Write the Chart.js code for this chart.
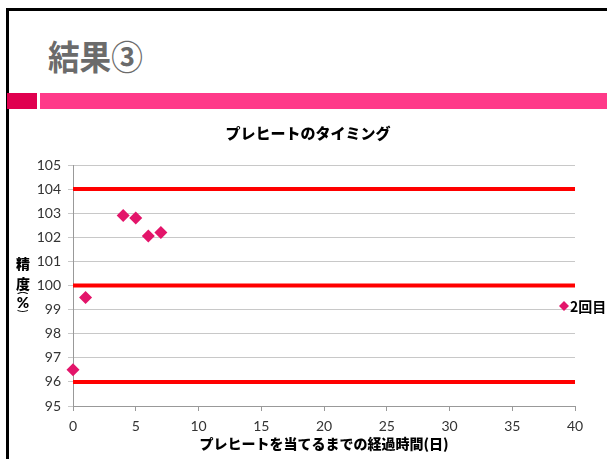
<!DOCTYPE html>
<html>
<head>
<meta charset="utf-8">
<script src="https://cdn.jsdelivr.net/npm/chart.js@4/dist/chart.umd.min.js"></script>
<style>
  html, body { margin: 0; padding: 0; background: #fff; }
  body { width: 607px; height: 459px; position: relative; overflow: hidden; }
  .frame-top { position: absolute; left: 7px; top: 8px; width: 600px; height: 3px; background: #000; }
  .frame-left { position: absolute; left: 6px; top: 8px; width: 3px; height: 451px; background: #000; }
  .slide-title { position: absolute; left: 48px; top: 32px; font-family: "Noto Sans CJK JP", sans-serif; font-weight: bold; font-size: 34px; line-height: 48px; color: #6b6b6b; transform: scaleX(0.93); transform-origin: left top; }
  .bar-dark { position: absolute; left: 7px; top: 93px; width: 30px; height: 16px; background: #e0004f; }
  .bar-pink { position: absolute; left: 40px; top: 93px; width: 567px; height: 16px; background: #ff3a89; }
  canvas { position: absolute; left: 0; top: 0; }
</style>
</head>
<body>
<div class="frame-top"></div>
<div class="frame-left"></div>
<div class="slide-title">結果③</div>
<div class="bar-dark"></div>
<div class="bar-pink"></div>
<canvas id="c" width="607" height="459"></canvas>
<script>
const chartTitle = "プレヒートのタイミング";
const xTitle = "プレヒートを当てるまでの経過時間(日)";
const yTitleParts = ["精", "度", "(", "%", ")"];
const seriesName = "2回目";
const days = [0, 1, 4, 5, 6, 7];
const accuracy = [96.5, 99.5, 102.9, 102.8, 102.05, 102.2];
const limitLevels = [104, 100, 96];
const limitSpan = [0, 40];
const yRange = [95, 105];
const xRange = [0, 40];

const pink = "#e3156a";
const fontLatin = "Lato, 'DejaVu Sans', sans-serif";
const fontJP = "'Noto Sans CJK JP', sans-serif";

const limitDatasets = limitLevels.map(v => ({
  type: 'line',
  label: 'limit ' + v,
  data: limitSpan.map(x => ({ x: x, y: v })),
  borderColor: '#ff0000',
  borderWidth: 4,
  pointRadius: 0,
  order: 2
}));

const decoPlugin = {
  id: 'deco',
  afterDraw(chart) {
    const ctx = chart.ctx;
    ctx.save();
    // chart title
    ctx.fillStyle = '#000';
    ctx.textAlign = 'center';
    ctx.textBaseline = 'middle';
    ctx.font = "900 15px " + fontJP;
    ctx.fillText(chartTitle, 308, 133);
    // y axis title, stacked vertically
    const ys = [264, 284, 293, 303, 311];
    yTitleParts.forEach((ch, i) => {
      if (ch === '(' || ch === ')') {
        ctx.save();
        ctx.translate(23, ys[i]);
        ctx.rotate(Math.PI / 2);
        ctx.font = "400 11px " + fontLatin;
        ctx.fillText(ch, 0, 0);
        ctx.restore();
      } else if (ch === '%') {
        ctx.font = "900 15px " + fontLatin;
        ctx.fillText(ch, 23, ys[i]);
      } else {
        ctx.font = "900 14px " + fontJP;
        ctx.fillText(ch, 23, ys[i]);
      }
    });
    // legend
    const ds = chart.data.datasets[0];
    const lx = 564, ly = 306;
    ctx.fillStyle = ds.backgroundColor;
    ctx.beginPath();
    ctx.moveTo(lx, ly - 5);
    ctx.lineTo(lx + 5, ly);
    ctx.lineTo(lx, ly + 5);
    ctx.lineTo(lx - 5, ly);
    ctx.closePath();
    ctx.fill();
    ctx.fillStyle = '#000';
    ctx.textAlign = 'left';
    ctx.font = "bold 14px " + fontJP;
    ctx.fillText(ds.label, 570, ly + 1);
    ctx.restore();
  }
};

new Chart(document.getElementById('c'), {
  type: 'scatter',
  data: {
    datasets: [
      {
        label: seriesName,
        data: days.map((d, i) => ({ x: d, y: accuracy[i] })),
        backgroundColor: pink,
        borderColor: pink,
        pointStyle: 'rectRot',
        pointRadius: 6.5,
        pointHoverRadius: 6.5,
        borderWidth: 0,
        clip: false,
        order: 1
      },
      ...limitDatasets
    ]
  },
  options: {
    responsive: false,
    animation: false,
    events: [],
    layout: { padding: { left: 0, right: 32, top: 165, bottom: 0 } },
    plugins: {
      legend: { display: false },
      tooltip: { enabled: false },
      title: { display: false }
    },
    scales: {
      x: {
        type: 'linear',
        min: xRange[0],
        max: xRange[1],
        afterFit(scale) { scale.height = 53; },
        ticks: { stepSize: 5, color: '#333', padding: 7, font: { family: fontLatin, size: 14 } },
        grid: { drawOnChartArea: false, drawTicks: true, tickLength: 5, color: '#999' },
        border: { color: '#999', width: 1 },
        title: {
          display: true,
          text: xTitle,
          color: '#000',
          font: { family: fontJP, size: 14, weight: '900', lineHeight: 1.2 },
          padding: { top: 7, bottom: 7 }
        }
      },
      y: {
        min: yRange[0],
        max: yRange[1],
        afterFit(scale) { scale.width = 73; },
        ticks: { stepSize: 1, color: '#333', padding: 7, font: { family: fontLatin, size: 14 } },
        grid: { color: '#c8c8c8', tickLength: 5, lineWidth: 1 },
        border: { color: '#999', width: 1 }
      }
    }
  },
  plugins: [decoPlugin]
});
</script>
</body>
</html>
